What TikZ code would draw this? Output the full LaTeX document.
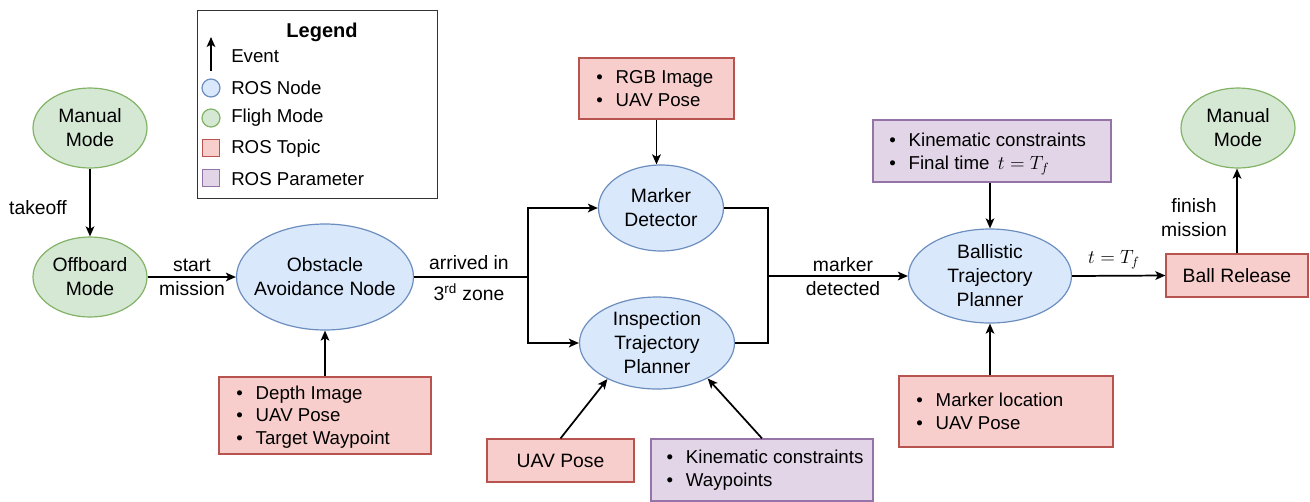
\documentclass[tikz,border=0pt]{standalone}
\usepackage{fontspec}
\setmainfont{Liberation Sans}
\usetikzlibrary{shapes.geometric,arrows.meta}
\definecolor{rosf}{HTML}{DAE8FC}\definecolor{rosb}{HTML}{6C8EBF}
\definecolor{flf}{HTML}{D5E8D4}\definecolor{flb}{HTML}{82B366}
\definecolor{topf}{HTML}{F8CECC}\definecolor{topb}{HTML}{B85450}
\definecolor{parf}{HTML}{E1D5E7}\definecolor{parb}{HTML}{9673A6}
\newcommand\bitem[1]{\makebox[14.5pt][l]{\textbullet}#1}
\tikzset{
 base/.style={draw, line width=0.9pt, inner sep=0pt},
 rosnode/.style={base, ellipse, draw=rosb, fill=rosf},
 flight/.style={base, ellipse, draw=flb, fill=flf},
 topic/.style={base, rectangle, draw=topb, fill=topf},
 param/.style={base, rectangle, draw=parb, fill=parf},
 lbl/.style={align=center, font=\fontsize{14.5}{18}\selectfont, inner sep=0pt},
 blist/.style={align=left, font=\fontsize{14}{17}\selectfont, inner sep=0pt, anchor=west},
 conn/.style={line width=1.3pt},
 arr/.style={conn, -{Stealth[length=7.5pt,width=6.5pt,inset=1.8pt]}},
}
\begin{document}
\begin{tikzpicture}[x=0.75pt,y=-0.75pt]
\useasboundingbox (0,0) rectangle (1310,501);
% Legend
\node[draw=black!80, line width=0.6pt, minimum width=180pt, minimum height=141pt, inner sep=0pt] (leg) at (317,104) {};
\node[font=\fontsize{15}{18}\selectfont\bfseries, inner sep=0pt] (legt) at (322,32) {Legend};
\coordinate (ev1) at (211,71);
\coordinate (ev2) at (211,37);
\draw[arr, line width=1.1pt] (ev1) -- (ev2);
\node[blist] (evt) at (231,56) {Event};
\node[rosnode, circle, minimum size=13.5pt] (lr) at (211,88) {};
\node[blist] (lrt) at (231,88) {ROS Node};
\node[flight, circle, minimum size=13.5pt] (lf) at (211,118) {};
\node[blist] (lft) at (231,118) {Fligh Mode};
\node[topic, minimum size=12.5pt] (lt) at (211,148) {};
\node[blist] (ltt) at (231,149) {ROS Topic};
\node[param, minimum size=12.5pt] (lp) at (211,178) {};
\node[blist] (lpt) at (231,179) {ROS Parameter};

% Flight modes
\node[flight, minimum width=85.5pt, minimum height=60pt] (mm1) at (90,128) {};
\node[lbl] (mm1t) at (mm1) {Manual\\Mode};
\node[flight, minimum width=85.5pt, minimum height=60pt] (ob) at (90,277) {};
\node[lbl] (obt) at (ob) {Offboard\\Mode};
\draw[arr] (mm1) -- (ob);
\node[lbl] (tk) at (38,208) {takeoff};

% Obstacle avoidance
\node[rosnode, minimum width=132.75pt, minimum height=79.5pt] (oa) at (325,277) {};
\node[lbl] (oat) at (oa) {Obstacle\\Avoidance Node};
\draw[arr] (ob) -- (oa);
\node[lbl] (sm) at (192,277) {start\\mission};
\node[topic, minimum width=159pt, minimum height=57.75pt] (dp) at (325,415.5) {};
\node[blist] (dpt) at ([xshift=13.3pt,yshift=-1pt]dp.west) {\bitem{Depth Image}\\\bitem{UAV Pose}\\\bitem{Target Waypoint}};
\draw[arr] (dp) -- (oa);

% Marker detector
\node[rosnode, minimum width=93.75pt, minimum height=64.5pt] (md) at (661,208) {};
\node[lbl] (mdt) at (md) {Marker\\Detector};
\node[topic, minimum width=116.25pt, minimum height=45.75pt] (rgb) at (656.5,88.5) {};
\node[blist] (rgbt) at ([xshift=13.3pt]rgb.west) {\bitem{RGB Image}\\\bitem{UAV Pose}};
\draw[arr] (rgb.south) -- (rgb.south |- md.north);

% Inspection planner
\node[rosnode, minimum width=116.25pt, minimum height=69pt] (itp) at (657,343) {};
\node[lbl] (itpt) at (itp) {Inspection\\Trajectory\\Planner};
\node[topic, minimum width=110.25pt, minimum height=32.25pt] (up) at (560.5,460.5) {};
\node[lbl] (upt) at (up) {UAV Pose};
\node[param, minimum width=166.5pt, minimum height=46.5pt] (kw) at (762,470) {};
\node[blist] (kwt) at ([xshift=12pt]kw.west) {\bitem{Kinematic constraints}\\\bitem{Waypoints}};
\draw[arr] (up.north) -- (itp.216);
\draw[arr] (kw.north) -- (itp.325);

% Branching from obstacle avoidance
\coordinate (j1) at (528,277);
\draw[conn] (oa.east) -- (j1);
\draw[arr] (j1) |- (md.west);
\draw[arr] (j1) |- (itp.west);
\node[lbl] (ar1) at (469,263) {arrived in};
\node[lbl] (ar2) at (469,292) {3\textsuperscript{rd} zone};

% Ballistic planner
\node[rosnode, minimum width=122.25pt, minimum height=70.5pt] (btp) at (990,276) {};
\node[lbl] (btpt) at (btp) {Ballistic\\Trajectory\\Planner};
\coordinate (j2) at (768,276);
\draw[conn] (md.east) -| (j2);
\draw[conn] (itp.east) -| (j2);
\draw[arr] (j2) -- (btp.west);
\node[lbl] (mdl) at (843,277) {marker\\detected};
\node[param, minimum width=178.5pt, minimum height=46.5pt] (kf) at (992,151) {};
\node[blist] (kft) at ([xshift=12.5pt,yshift=-2.2pt]kf.west) {\bitem{Kinematic constraints}\\\bitem{Final time\, $t=T_f$}};
\draw[arr] (btp.north |- kf.south) -- (btp.north);
\node[topic, minimum width=160.5pt, minimum height=53.25pt] (ml) at (1006,411.5) {};
\node[blist] (mlt) at ([xshift=13.3pt]ml.west) {\bitem{Marker location}\\\bitem{UAV Pose}};
\draw[arr] (btp.south |- ml.north) -- (btp.south);

% Ball release
\node[topic, minimum width=106.5pt, minimum height=32.25pt] (br) at (1237,275.5) {};
\node[lbl] (brt) at (br) {Ball Release};
\draw[arr] (btp.east) -- (br.west);
\node[lbl] (tf) at (1114,260) {$t=T_f$};
\node[flight, minimum width=85.5pt, minimum height=60pt] (mm2) at (1238,128) {};
\node[lbl] (mm2t) at (mm2) {Manual\\Mode};
\draw[arr] (br.north) -- (br.north |- mm2.south);
\node[lbl] (fm) at (1194,218) {finish\\mission};
\end{tikzpicture}
\end{document}
